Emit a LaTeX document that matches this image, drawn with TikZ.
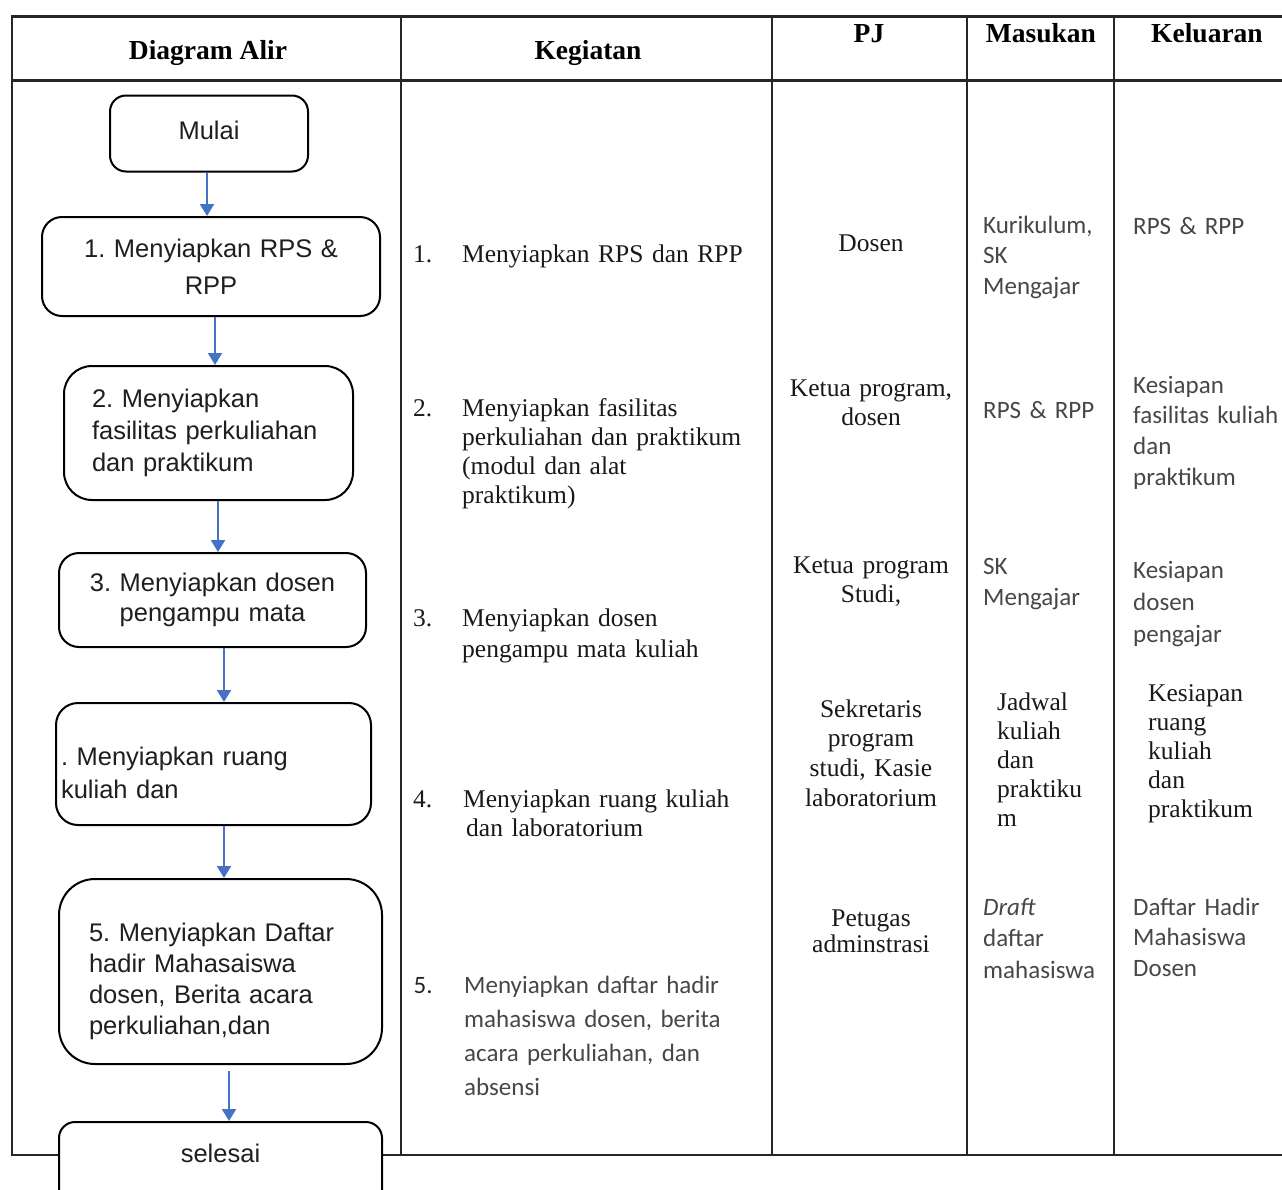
\documentclass[tikz,border=0pt]{standalone}
\usepackage{fontspec}
\setmainfont{Liberation Serif}
\newfontfamily\flowfont{Liberation Sans}
\newfontfamily\calfont{Carlito}
\usetikzlibrary{arrows.meta}
\definecolor{flowblue}{RGB}{68,114,196}
\begin{document}
\frenchspacing
\begin{tikzpicture}[x=1pt,y=-1pt,
  rule/.style={line width=2.4pt, draw=black!85},
  headrule/.style={line width=3pt, draw=black!85},
  stepbox/.style={draw=black, line width=2pt, fill=white, inner ysep=0pt, text=black!88},
  flow/.style={font=\flowfont\fontsize{25.5}{#1}\selectfont},
  arr/.style={draw=flowblue, line width=2.2pt, -{Triangle[width=14pt,length=12pt]}},
  headtext/.style={font=\bfseries\fontsize{27.5}{30}\selectfont, inner sep=0pt, anchor=base},
  kegtext/.style={font=\fontsize{25.5}{#1}\selectfont, inner sep=0pt, anchor=base west, text width=320pt, align=left, text=black!90},
  pjtext/.style={font=\fontsize{25.5}{#1}\selectfont, inner sep=0pt, anchor=base, text width=190pt, align=center, text=black!90},
  caltext/.style={font=\calfont\fontsize{25}{#1}\selectfont, inner sep=0pt, anchor=base west, text width=150pt, align=left, text=black!72},
  numtext/.style={font=\fontsize{25.5}{29}\selectfont, inner sep=0pt, anchor=base west, text=black!90}
]
\useasboundingbox (0,0) rectangle (1282,1189);
\clip (0,0) rectangle (1282,1189);

% table frame and column rules
\draw[rule, line join=miter] (1282,16) -- (12,16) -- (12,1155) -- (1282,1155);
\draw[headrule] (12,16) -- (1282,16);
\draw[headrule] (12,80) -- (1282,80);
\foreach \cx in {401,772,967,1114}
  \draw[rule] (\cx,16) -- (\cx,1155);

% column headings
\node[headtext] (hdiag) at (208,59) {Diagram Alir};
\node[headtext] (hkeg) at (588,59) {Kegiatan};
\node[headtext] (hpj) at (869,42.7) {PJ};
\node[headtext] (hmas) at (1041,42.7) {Masukan};
\node[headtext] (hkel) at (1207,42.7) {Keluaran};

% flow chart
\node[stepbox, flow=31, rounded corners=16pt, minimum width=198pt, minimum height=76pt,
      text height=18.3pt, text depth=7.3pt] (mulai) at (209,133.5) {Mulai};
\node[stepbox, flow=36.7, rounded corners=20pt, minimum width=338pt, minimum height=99pt,
      text width=318pt, inner xsep=10pt, align=center] (b1) at (211,266.5) {1. Menyiapkan RPS \&\\RPP};
\node[stepbox, flow=32, rounded corners=28pt, minimum width=289pt, minimum height=134pt,
      text width=233pt, inner xsep=28pt, align=left] (b2) at (208.5,433) {2. Menyiapkan\\fasilitas perkuliahan\\dan praktikum};
\node[stepbox, flow=30, rounded corners=20pt, minimum width=307pt, minimum height=94pt,
      text width=287pt, inner xsep=10pt, align=center] (b3) at (212.5,600) {3. Menyiapkan dosen\\pengampu mata};
\node[stepbox, flow=33, rounded corners=22pt, minimum width=315pt, minimum height=122pt,
      text width=305pt, inner xsep=5pt, align=left] (b4) at (213.5,764) {\rule{0pt}{37pt}. Menyiapkan ruang\\kuliah dan};
\node[stepbox, flow=31, rounded corners=36pt, minimum width=323pt, minimum height=185pt,
      text width=263pt, inner xsep=30pt, align=left] (b5) at (220.5,971.5) {\rule{0pt}{39pt}5. Menyiapkan Daftar\\hadir Mahasaiswa\\dosen, Berita acara\\perkuliahan,dan};
\node[stepbox, flow=31, rounded corners=16pt, anchor=north, minimum width=323pt, inner sep=0pt,
      text height=40pt, text depth=60pt] (sel) at (220.5,1121) {selesai};

\draw[arr] ([xshift=-2pt]mulai.south) -- ([xshift=-4pt]b1.north);
\draw[arr] ([xshift=4pt]b1.south) -- ([xshift=6.5pt]b2.north);
\draw[arr] ([xshift=9.5pt]b2.south) -- ([xshift=5.5pt]b3.north);
\draw[arr] ([xshift=11.5pt]b3.south) -- ([xshift=10.5pt]b4.north);
\draw[arr] ([xshift=10.5pt]b4.south) -- ([xshift=3.5pt]b5.north);
\draw[arr, shorten <=6pt] ([xshift=8.5pt]b5.south) -- ([xshift=8.5pt]sel.north);

% activities
\node[numtext] (k1n) at (413,262.5) {1.};
\node[kegtext=29] (k1) at (462,262.5) {Menyiapkan RPS dan RPP};
\node[numtext] (k2n) at (413,416.5) {2.};
\node[kegtext=29] (k2) at (462,416.5) {Menyiapkan fasilitas\\perkuliahan dan praktikum\\(modul dan alat\\praktikum)};
\node[numtext] (k3n) at (413,626) {3.};
\node[kegtext=31.6] (k3) at (462,626) {Menyiapkan dosen\\pengampu mata kuliah};
\node[numtext] (k4n) at (413,807) {4.};
\node[kegtext=29] (k4) at (463,807) {Menyiapkan ruang kuliah\\\hspace*{3pt}dan laboratorium};
\node[numtext, font=\calfont\fontsize{25}{31}\selectfont, text=black!85] (k5n) at (413.5,993) {5.};
\node[caltext=34, text width=300pt] (k5) at (464,993) {Menyiapkan daftar hadir\\mahasiswa dosen, berita\\acara perkuliahan, dan\\absensi};

% persons in charge
\node[pjtext=29] (pj1) at (871,251.7) {Dosen};
\node[pjtext=28.5] (pj2) at (871,396.7) {Ketua program,\\dosen};
\node[pjtext=29.5] (pj3) at (871,573) {Ketua program\\Studi,};
\node[pjtext=29.7] (pj4) at (871,717) {Sekretaris\\program\\studi, Kasie\\laboratorium};
\node[pjtext=26] (pj5) at (871,926) {Petugas\\adminstrasi};

% inputs
\node[caltext=30.5] (m1) at (983,233) {Kurikulum,\\SK\\Mengajar};
\node[caltext=31] (m2) at (983,418) {RPS \& RPP};
\node[caltext=31] (m3) at (983,574) {SK\\Mengajar};
\node[kegtext=29, text width=120pt] (m4) at (997,710) {Jadwal\\kuliah\\dan\\praktiku\\m};
\node[caltext=31.5] (m5) at (983,915) {\textit{Draft}\\daftar\\mahasiswa};

% outputs
\node[caltext=31] (o1) at (1133,234) {RPS \& RPP};
\node[caltext=30.7] (o2) at (1133,393) {Kesiapan\\fasilitas kuliah\\dan\\praktikum};
\node[caltext=32] (o3) at (1133,578) {Kesiapan\\dosen\\pengajar};
\node[kegtext=29, text width=130pt] (o4) at (1148,701) {Kesiapan\\ruang\\kuliah\\dan\\praktikum};
\node[caltext=30.5] (o5) at (1133,915) {Daftar Hadir\\Mahasiswa\\Dosen};
\end{tikzpicture}
\end{document}
